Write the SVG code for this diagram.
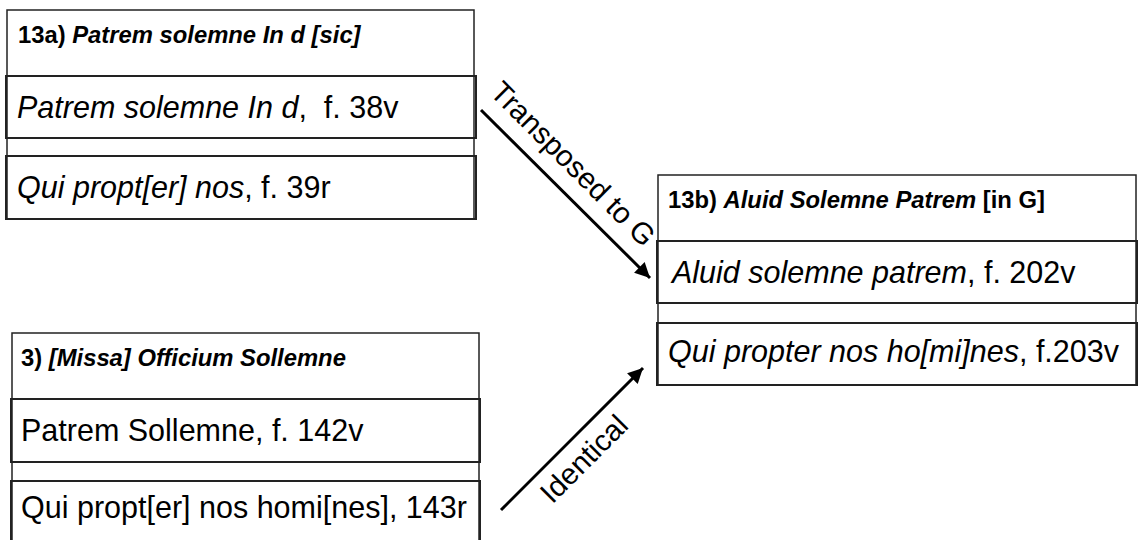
<svg xmlns="http://www.w3.org/2000/svg" width="1138" height="540" viewBox="0 0 1138 540">
<defs>
<style>
.box{fill:none;stroke:#222;stroke-width:1.5}
.row{fill:none;stroke:#222;stroke-width:2}
.hd{font-family:"Liberation Sans",Arial,sans-serif;font-size:23.8px;font-weight:bold;fill:#000}
.tx{font-family:"Liberation Sans",Arial,sans-serif;font-size:30.5px;fill:#000}
.lb{font-family:"Liberation Sans",Arial,sans-serif;font-size:29.5px;fill:#000}
.it{font-style:italic}
.conn{stroke:#000;stroke-width:3;fill:none}
</style>
<marker id="ah" viewBox="0 0 10 10" refX="10" refY="5" markerWidth="6" markerHeight="5" markerUnits="strokeWidth" orient="auto">
<path d="M0,0 L10,5 L0,10 z" fill="#000"/>
</marker>
</defs>
<rect width="1138" height="540" fill="#fff"/>
<g id="node-13a">
<rect class="box" x="7" y="10" width="467" height="209"/>
<rect class="row" x="6" y="76" width="470" height="62"/>
<rect class="row" x="6" y="156" width="470" height="63"/>
<text class="hd" x="18" y="43">13a) <tspan class="it">Patrem solemne In d [sic]</tspan></text>
<text class="tx" x="17" y="118" xml:space="preserve"><tspan class="it">Patrem solemne In d</tspan>,  f. 38v</text>
<text class="tx" x="17" y="198"><tspan class="it">Qui propt[er] nos</tspan>, f. 39r</text>
</g>
<g id="node-3">
<rect class="box" x="12" y="333" width="467" height="212"/>
<rect class="row" x="11" y="399" width="469" height="63"/>
<rect class="row" x="11" y="481" width="469" height="64"/>
<text class="hd" x="21" y="366">3) <tspan class="it">[Missa] Officium Sollemne</tspan></text>
<text class="tx" x="21" y="441">Patrem Sollemne, f. 142v</text>
<text class="tx" x="21" y="518">Qui propt[er] nos homi[nes], 143r</text>
</g>
<g id="node-13b">
<rect class="box" x="658" y="175" width="478" height="210"/>
<rect class="row" x="657" y="241" width="480" height="62"/>
<rect class="row" x="657" y="323" width="480" height="62"/>
<text class="hd" x="668" y="208">13b) <tspan class="it">Aluid Solemne Patrem</tspan> [in G]</text>
<text class="tx" x="672" y="283"><tspan class="it">Aluid solemne patrem</tspan>, f. 202v</text>
<text class="tx" x="668" y="362"><tspan class="it">Qui propter nos ho[mi]nes</tspan>, f.203v</text>
</g>
<g id="connectors">
<line class="conn" x1="481" y1="110" x2="650" y2="278" marker-end="url(#ah)"/>
<line class="conn" x1="501" y1="510" x2="643" y2="368" marker-end="url(#ah)"/>
<text class="lb" text-anchor="middle" transform="translate(566,171) rotate(45)">Transposed to G</text>
<text class="lb" text-anchor="middle" transform="translate(591,466) rotate(-45)">Identical</text>
</g>
</svg>
